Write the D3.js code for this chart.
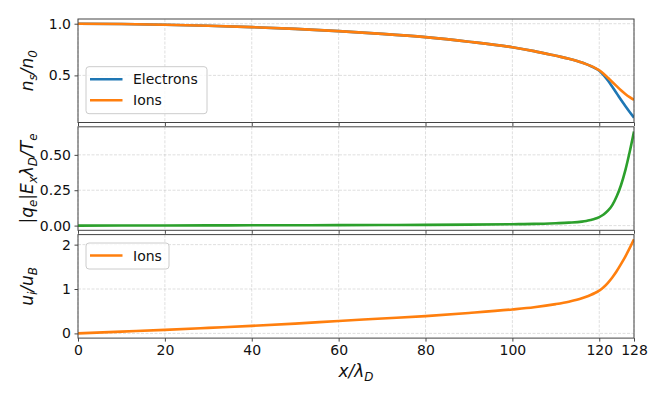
<!DOCTYPE html>
<html><head><meta charset="utf-8">
<script src="https://cdn.jsdelivr.net/npm/d3@7"></script>
<style>body{margin:0;background:#fff}svg{display:block}text{font-family:"DejaVu Sans",sans-serif}</style>
</head><body><svg id="c" width="664" height="399"></svg>
<script>
const xs =              [0,    10,    20,    30,    40,    50,    60,    70,    80,    90,    100,   105,   110,   113,   116,   117,   118,   119,   120,   121,   122,   123,   124,   125,   126,   127,   128];
const electronDensity = [1.000,0.997,0.990,0.980,0.967,0.950,0.928,0.902,0.870,0.826,0.772,0.735,0.690,0.662,0.625,0.609,0.591,0.570,0.545,0.503,0.450,0.390,0.328,0.265,0.205,0.147,0.090];
const ionDensity =      [1.000,0.997,0.990,0.980,0.967,0.950,0.928,0.902,0.870,0.826,0.772,0.735,0.690,0.662,0.625,0.609,0.592,0.573,0.550,0.517,0.477,0.436,0.396,0.357,0.321,0.290,0.264];
const electricField =   [0.000,0.0005,0.001,0.0015,0.002,0.0025,0.003,0.004,0.005,0.007,0.010,0.012,0.017,0.021,0.028,0.033,0.040,0.048,0.060,0.078,0.105,0.145,0.205,0.285,0.390,0.520,0.665];
const ionVelocity =     [0.000,0.040,0.080,0.125,0.170,0.220,0.280,0.335,0.390,0.460,0.540,0.590,0.660,0.715,0.790,0.825,0.865,0.910,0.965,1.040,1.140,1.260,1.400,1.560,1.730,1.920,2.120];
const xTicks = [0,20,40,60,80,100,120,128];
const densityTicks = [0.5,1.0];
const fieldTicks = [0,0.25,0.5];
const velocityTicks = [0,1,2];
const colors = {e:"#1f77b4", i:"#ff7f0e", f:"#2ca02c"};

const svg = d3.select("#c");
const L = 78, R = 634, H = 103.5, tops = [19, 126.8, 234.6];
const x = d3.scaleLinear().domain([0,128]).range([L,R]);

function pad(vals){const lo=d3.min(vals),hi=d3.max(vals),m=(hi-lo)*0.05;return [lo-m,hi+m];}

function panel(i, yDomain, yTicks, fmt, series, showX){
  const t = tops[i], b = t + H;
  const y = d3.scaleLinear().domain(yDomain).range([b,t]);
  const g = svg.append("g");
  g.selectAll(null).data(xTicks).join("line")
    .attr("x1",d=>x(d)).attr("x2",d=>x(d)).attr("y1",t).attr("y2",b)
    .attr("stroke","#b0b0b0").attr("stroke-opacity",0.5).attr("stroke-width",0.8).attr("stroke-dasharray","3,1.5");
  g.selectAll(null).data(yTicks).join("line")
    .attr("x1",L).attr("x2",R).attr("y1",d=>y(d)).attr("y2",d=>y(d))
    .attr("stroke","#b0b0b0").attr("stroke-opacity",0.5).attr("stroke-width",0.8).attr("stroke-dasharray","3,1.5");
  const cg = g.append("g");
  cg.append("clipPath").attr("id","cp"+i).append("rect").attr("x",L).attr("y",t).attr("width",R-L).attr("height",H);
  series.forEach(s=>{
    const line = d3.line().x((d,k)=>x(xs[k])).y(d=>y(d)).curve(d3.curveMonotoneX);
    cg.append("path").attr("d",line(s.v)).attr("fill","none").attr("stroke",s.c).attr("stroke-width",2.6)
      .attr("clip-path","url(#cp"+i+")");
  });
  const ax = d3.axisBottom(x).tickValues(xTicks).tickSize(3.5).tickPadding(3.5).tickFormat(showX?d3.format("d"):"");
  const gx = g.append("g").attr("transform",`translate(0,${b})`).call(ax);
  const ay = d3.axisLeft(y).tickValues(yTicks).tickSize(3.5).tickPadding(3.5).tickFormat(fmt);
  const gy = g.append("g").attr("transform",`translate(${L},0)`).call(ay);
  [gx,gy].forEach(a=>{a.select(".domain").remove();a.selectAll("line").attr("stroke","#333").attr("stroke-width",0.9);
    a.selectAll("text").attr("font-size",14).attr("fill","#111").attr("font-family","DejaVu Sans");});
  g.append("rect").attr("x",L).attr("y",t).attr("width",R-L).attr("height",H).attr("fill","none").attr("stroke","#444").attr("stroke-width",1);
  return {y,t,b};
}

const p0 = panel(0, pad(electronDensity.concat(ionDensity)), densityTicks, d3.format(".1f"),
  [{v:electronDensity,c:colors.e},{v:ionDensity,c:colors.i}], false);
const p1 = panel(1, pad(electricField), fieldTicks, d3.format(".2f"), [{v:electricField,c:colors.f}], false);
const p2 = panel(2, pad(ionVelocity), velocityTicks, d3.format("d"), [{v:ionVelocity,c:colors.i}], true);

function legend(x0,y0,w,items){
  const h = items.length*21+5;
  svg.append("rect").attr("x",x0).attr("y",y0).attr("width",w).attr("height",h).attr("rx",3)
    .attr("fill","#fff").attr("fill-opacity",0.8).attr("stroke","#ccc").attr("stroke-width",1);
  items.forEach((it,k)=>{
    const cy = y0+12.5+k*21;
    svg.append("line").attr("x1",x0+4).attr("x2",x0+36.5).attr("y1",cy).attr("y2",cy).attr("stroke",it.c).attr("stroke-width",2.6);
    svg.append("text").attr("x",x0+47).attr("y",cy+5).attr("font-size",14).attr("fill","#111").text(it.n);
  });
}
legend(86,66.7,121,[{n:"Electrons",c:colors.e},{n:"Ions",c:colors.i}]);
legend(86,243,83,[{n:"Ions",c:colors.i}]);

function mathLabel(parent, parts, size){
  const t = parent.append("text").attr("font-size",size).attr("font-style","italic").attr("fill","#111").attr("text-anchor","middle");
  parts.forEach(p=>{
    const ts = t.append("tspan").text(p[0]);
    if(p[1]==="sub"){ts.attr("font-size",size*0.7).attr("dy",size*0.22);}
    else if(p[1]==="up"){ts.attr("dy",-size*0.22);}
  });
  return t;
}
const yl = [
  {cy:(p0.t+p0.b)/2, parts:[["n"],["s","sub"],["/n","up"],["0","sub"]]},
  {cy:(p1.t+p1.b)/2, parts:[["|q"],["e","sub"],["|E","up"],["x","sub"],["λ","up"],["D","sub"],["/T","up"],["e","sub"]]},
  {cy:(p2.t+p2.b)/2, parts:[["u"],["i","sub"],["/u","up"],["B","sub"]]}
];
yl.forEach(o=>{
  const g = svg.append("g").attr("transform",`translate(33,${o.cy}) rotate(-90)`);
  mathLabel(g,o.parts,17);
});
const xg = svg.append("g").attr("transform",`translate(${(L+R)/2},377)`);
mathLabel(xg,[["x/λ"],["D","sub"]],17);
</script></body></html>
